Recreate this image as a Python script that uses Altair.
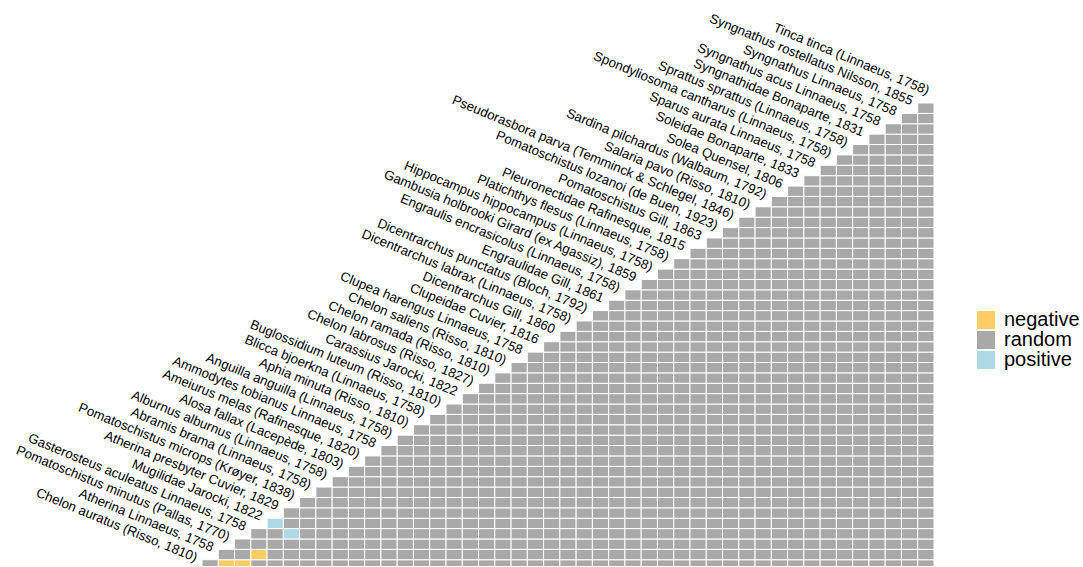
import altair as alt
import pandas as pd

# Species in plotting order (bottom-left to top-right of the triangle)
species = [
    "Chelon auratus (Risso, 1810)",
    "Atherina Linnaeus, 1758",
    "Pomatoschistus minutus (Pallas, 1770)",
    "Gasterosteus aculeatus Linnaeus, 1758",
    "Mugilidae Jarocki, 1822",
    "Atherina presbyter Cuvier, 1829",
    "Pomatoschistus microps (Krøyer, 1838)",
    "Abramis brama (Linnaeus, 1758)",
    "Alburnus alburnus (Linnaeus, 1758)",
    "Alosa fallax (Lacepède, 1803)",
    "Ameiurus melas (Rafinesque, 1820)",
    "Ammodytes tobianus Linnaeus, 1758",
    "Anguilla anguilla (Linnaeus, 1758)",
    "Aphia minuta (Risso, 1810)",
    "Blicca bjoerkna (Linnaeus, 1758)",
    "Buglossidium luteum (Risso, 1810)",
    "Carassius Jarocki, 1822",
    "Chelon labrosus (Risso, 1827)",
    "Chelon ramada (Risso, 1810)",
    "Chelon saliens (Risso, 1810)",
    "Clupea harengus Linnaeus, 1758",
    "Clupeidae Cuvier, 1816",
    "Dicentrarchus Gill, 1860",
    "Dicentrarchus labrax (Linnaeus, 1758)",
    "Dicentrarchus punctatus (Bloch, 1792)",
    "Engraulidae Gill, 1861",
    "Engraulis encrasicolus (Linnaeus, 1758)",
    "Gambusia holbrooki Girard (ex Agassiz), 1859",
    "Hippocampus hippocampus (Linnaeus, 1758)",
    "Platichthys flesus (Linnaeus, 1758)",
    "Pleuronectidae Rafinesque, 1815",
    "Pomatoschistus Gill, 1863",
    "Pomatoschistus lozanoi (de Buen, 1923)",
    "Pseudorasbora parva (Temminck & Schlegel, 1846)",
    "Salaria pavo (Risso, 1810)",
    "Sardina pilchardus (Walbaum, 1792)",
    "Solea Quensel, 1806",
    "Soleidae Bonaparte, 1833",
    "Sparus aurata Linnaeus, 1758",
    "Spondyliosoma cantharus (Linnaeus, 1758)",
    "Sprattus sprattus (Linnaeus, 1758)",
    "Syngnathidae Bonaparte, 1831",
    "Syngnathus acus Linnaeus, 1758",
    "Syngnathus Linnaeus, 1758",
    "Syngnathus rostellatus Nilsson, 1855",
    "Tinca tinca (Linnaeus, 1758)",
]

# Significant associations; every other pair is random
negative_pairs = [
    ("Pomatoschistus minutus (Pallas, 1770)", "Chelon auratus (Risso, 1810)"),
    ("Gasterosteus aculeatus Linnaeus, 1758", "Chelon auratus (Risso, 1810)"),
    ("Mugilidae Jarocki, 1822", "Atherina Linnaeus, 1758"),
]
positive_pairs = [
    ("Atherina presbyter Cuvier, 1829", "Mugilidae Jarocki, 1822"),
    ("Pomatoschistus microps (Krøyer, 1838)", "Gasterosteus aculeatus Linnaeus, 1758"),
]

categories = ["negative", "random", "positive"]
palette = ["#FFCC66", "#A9A9A9", "#ADD8E6"]

lookup = {}
for a, b in negative_pairs:
    lookup[frozenset((a, b))] = "negative"
for a, b in positive_pairs:
    lookup[frozenset((a, b))] = "positive"

records = []
for i in range(1, len(species)):
    for j in range(i):
        records.append({
            "sp1": species[i],
            "sp2": species[j],
            "i": i,
            "j": j,
            "type": lookup.get(frozenset((species[i], species[j])), "random"),
        })
cells = pd.DataFrame(records)
labels = pd.DataFrame({"label": species, "k": list(range(len(species)))})

col_w = 16.27
row_h = 10.38
n_cols = len(species) - 1
plot_w = 732
plot_h = 463
y_top = n_cols - 0.5
y_bottom = y_top - plot_h / row_h

xscale = alt.Scale(domain=[0.5, n_cols + 0.5], nice=False, zero=False)
yscale = alt.Scale(domain=[y_bottom, y_top], nice=False, zero=False)

tiles = alt.Chart(cells).transform_calculate(
    x0="datum.i - 0.5", x1="datum.i + 0.5",
    y0="datum.j - 0.5", y1="datum.j + 0.5",
).mark_rect(stroke="white", strokeWidth=1, clip=True).encode(
    x=alt.X("x0:Q", scale=xscale, axis=None),
    x2="x1:Q",
    y=alt.Y("y0:Q", scale=yscale, axis=None),
    y2="y1:Q",
    color=alt.Color(
        "type:N",
        scale=alt.Scale(domain=categories, range=palette),
        legend=alt.Legend(
            title=None,
            orient="none",
            legendX=774,
            legendY=207,
            symbolType="square",
            symbolSize=324,
            symbolStrokeWidth=0,
            symbolOpacity=1,
            labelFontSize=20,
            labelFont="Liberation Sans",
            labelColor="#000000",
            labelOffset=8,
            rowPadding=0,
            padding=0,
        ),
    ),
)

names = alt.Chart(labels).mark_text(
    angle=22.5,
    align="right",
    baseline="bottom",
    font="Liberation Sans",
    fontSize=13.3,
    color="#000000",
).encode(
    x=alt.X("k:Q", scale=xscale, axis=None),
    y=alt.Y("k:Q", scale=yscale, axis=None),
    text="label:N",
)

chart = alt.layer(tiles, names).properties(
    width=plot_w,
    height=plot_h,
    autosize=alt.AutoSizeParams(type="none"),
    padding={"left": 202, "top": 103, "right": 149, "bottom": 0},
).configure_view(stroke=None)

chart.save("out.html", embed_options={"renderer": "svg", "actions": False})
